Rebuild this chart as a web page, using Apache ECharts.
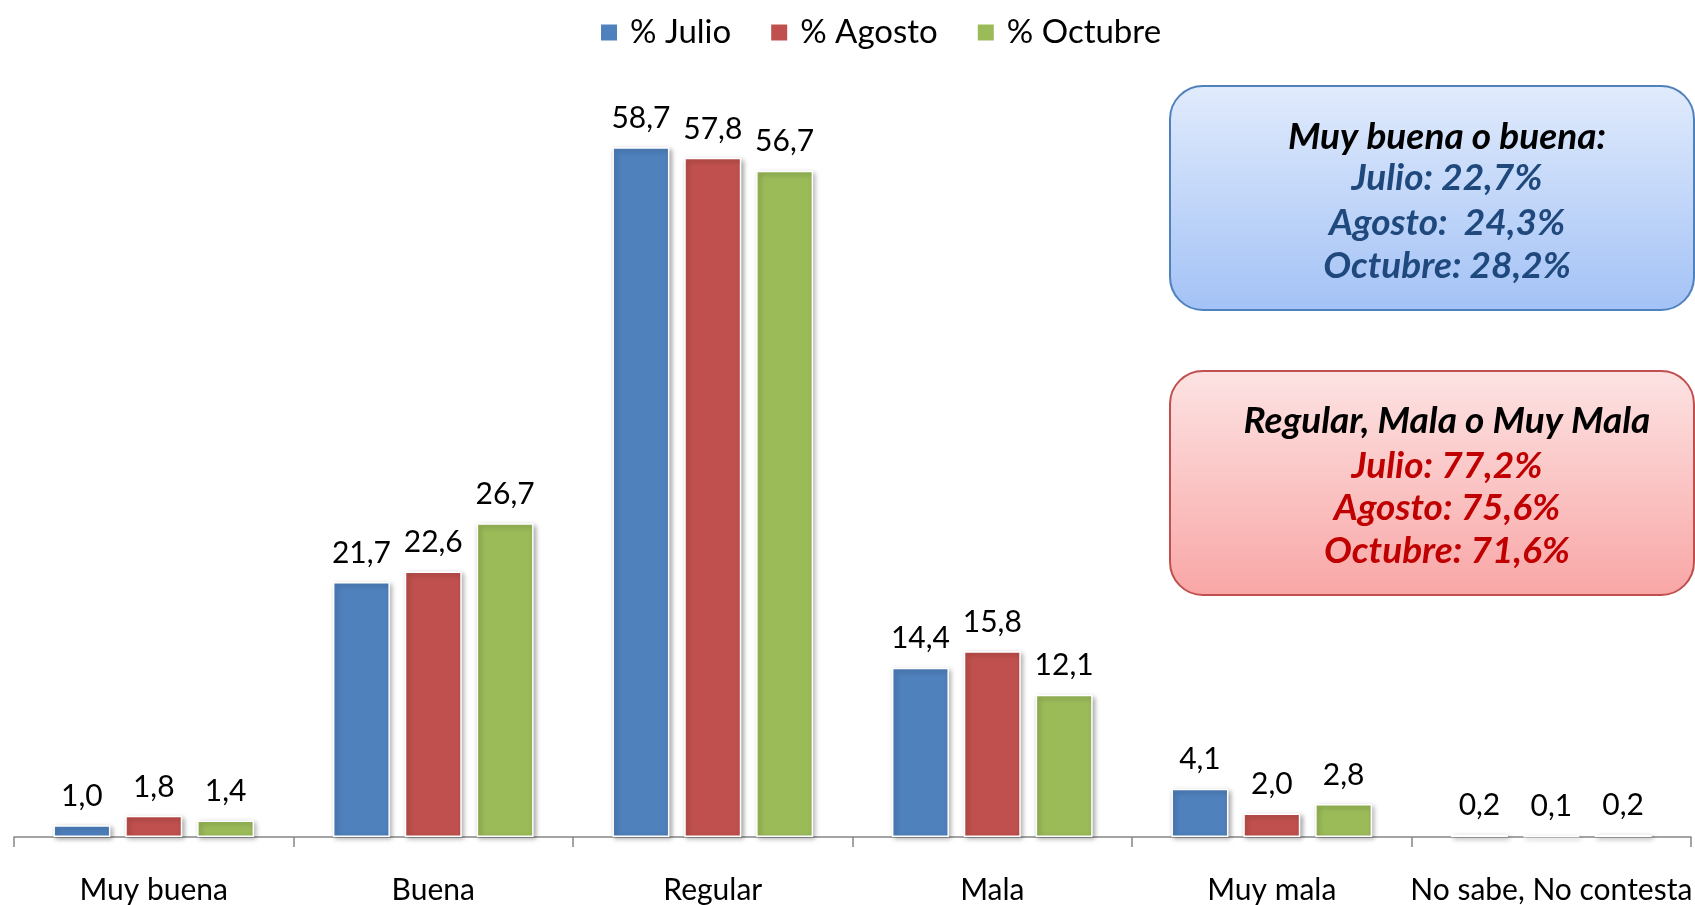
<!DOCTYPE html>
<html><head><meta charset="utf-8">
<script src="https://cdn.jsdelivr.net/npm/echarts@6/dist/echarts.min.js"></script>
<style>html,body{margin:0;padding:0;background:#fff}#c{width:1695px;height:905px}</style>
</head><body><div id="c"></div>
<script>
const categories = ['Muy buena', 'Buena', 'Regular', 'Mala', 'Muy mala', 'No sabe, No contesta'];
const seriesNames = ['% Julio', '% Agosto', '% Octubre'];
const julio = [1.0, 21.7, 58.7, 14.4, 4.1, 0.2];
const agosto = [1.8, 22.6, 57.8, 15.8, 2.0, 0.1];
const octubre = [1.4, 26.7, 56.7, 12.1, 2.8, 0.2];
const colors = ['#4F81BD', '#C0504D', '#9BBB59'];
const boxBlueLines = ['Muy buena o buena:', 'Julio: 22,7%', 'Agosto:  24,3%', 'Octubre: 28,2%'];
const boxRedLines = ['Regular, Mala o Muy Mala', 'Julio: 77,2%', 'Agosto: 75,6%', 'Octubre: 71,6%'];

const FONT = 'Lato';
const chart = echarts.init(document.getElementById('c'));
const dataSets = [julio, agosto, octubre];
function fmt(v){ return v.toFixed(1).replace('.', ','); }

// fit box font size so the titles match the reference widths (319px and 410px)
const ctx = document.createElement('canvas').getContext('2d');
ctx.font = 'italic bold 100px ' + FONT;
const s1 = 100 * 319 / ctx.measureText(boxBlueLines[0]).width;
const s2 = 100 * 410 / ctx.measureText(boxRedLines[0]).width;
const boxFont = Math.round((s1 + s2) / 2);

const series = dataSets.map((d, i) => ({
  name: seriesNames[i],
  type: 'bar',
  data: d,
  barWidth: '20.4%',
  barGap: '26%',
  itemStyle: {
    color: colors[i],
    borderColor: '#fff',
    borderWidth: 1.5,
    shadowBlur: 5,
    shadowColor: 'rgba(0,0,0,0.35)',
    shadowOffsetX: 2,
    shadowOffsetY: 2
  },
  label: {
    show: true,
    position: 'top',
    distance: 14,
    color: '#000',
    fontFamily: FONT,
    fontSize: 30,
    formatter: p => fmt(p.value)
  }
}));

function textLines(lines, cx, ys, titleColor, color) {
  return lines.map((t, i) => ({
    type: 'text',
    z: 100,
    style: {
      x: cx, y: ys[i],
      text: t,
      align: 'center',
      verticalAlign: 'middle',
      fill: i === 0 ? titleColor : color,
      fontFamily: FONT,
      fontStyle: 'italic',
      fontWeight: 'bold',
      fontSize: boxFont
    }
  }));
}

chart.setOption({
  animation: false,
  legend: {
    data: seriesNames,
    left: 594,
    top: 11,
    itemWidth: 18,
    itemHeight: 18,
    itemGap: 38,
    icon: 'rect',
    textStyle: { fontFamily: FONT, fontSize: 33, color: '#000', padding: [0, 0, 0, 7] }
  },
  grid: { left: 14, right: 0, top: 132, bottom: 66, containLabel: false },
  xAxis: {
    type: 'category',
    data: categories,
    axisLine: { lineStyle: { color: '#868686', width: 1.5 } },
    axisTick: { show: true, length: 10, lineStyle: { color: '#868686', width: 1.5 } },
    axisLabel: { color: '#000', fontFamily: FONT, fontSize: 30, margin: 38, interval: 0 }
  },
  yAxis: { type: 'value', min: 0, max: 60, show: false, splitLine: { show: false } },
  series: series,
  graphic: [
    {
      type: 'rect', z: 90,
      shape: { x: 1170, y: 86, width: 524, height: 224, r: 33 },
      style: {
        fill: new echarts.graphic.LinearGradient(0, 0, 0, 1, [
          { offset: 0, color: '#E1EBFC' }, { offset: 1, color: '#A3C2F6' }
        ]),
        stroke: '#4F81BD', lineWidth: 2
      }
    },
    {
      type: 'rect', z: 90,
      shape: { x: 1170, y: 371, width: 524, height: 224, r: 33 },
      style: {
        fill: new echarts.graphic.LinearGradient(0, 0, 0, 1, [
          { offset: 0, color: '#FDE3E3' }, { offset: 1, color: '#F9A6A6' }
        ]),
        stroke: '#C0504D', lineWidth: 2
      }
    },
    ...textLines(boxBlueLines, 1447, [137, 178, 223, 266], '#000', '#1F497D'),
    ...textLines(boxRedLines, 1447, [421, 466, 508, 551], '#000', '#C00000')
  ]
});
</script></body></html>
